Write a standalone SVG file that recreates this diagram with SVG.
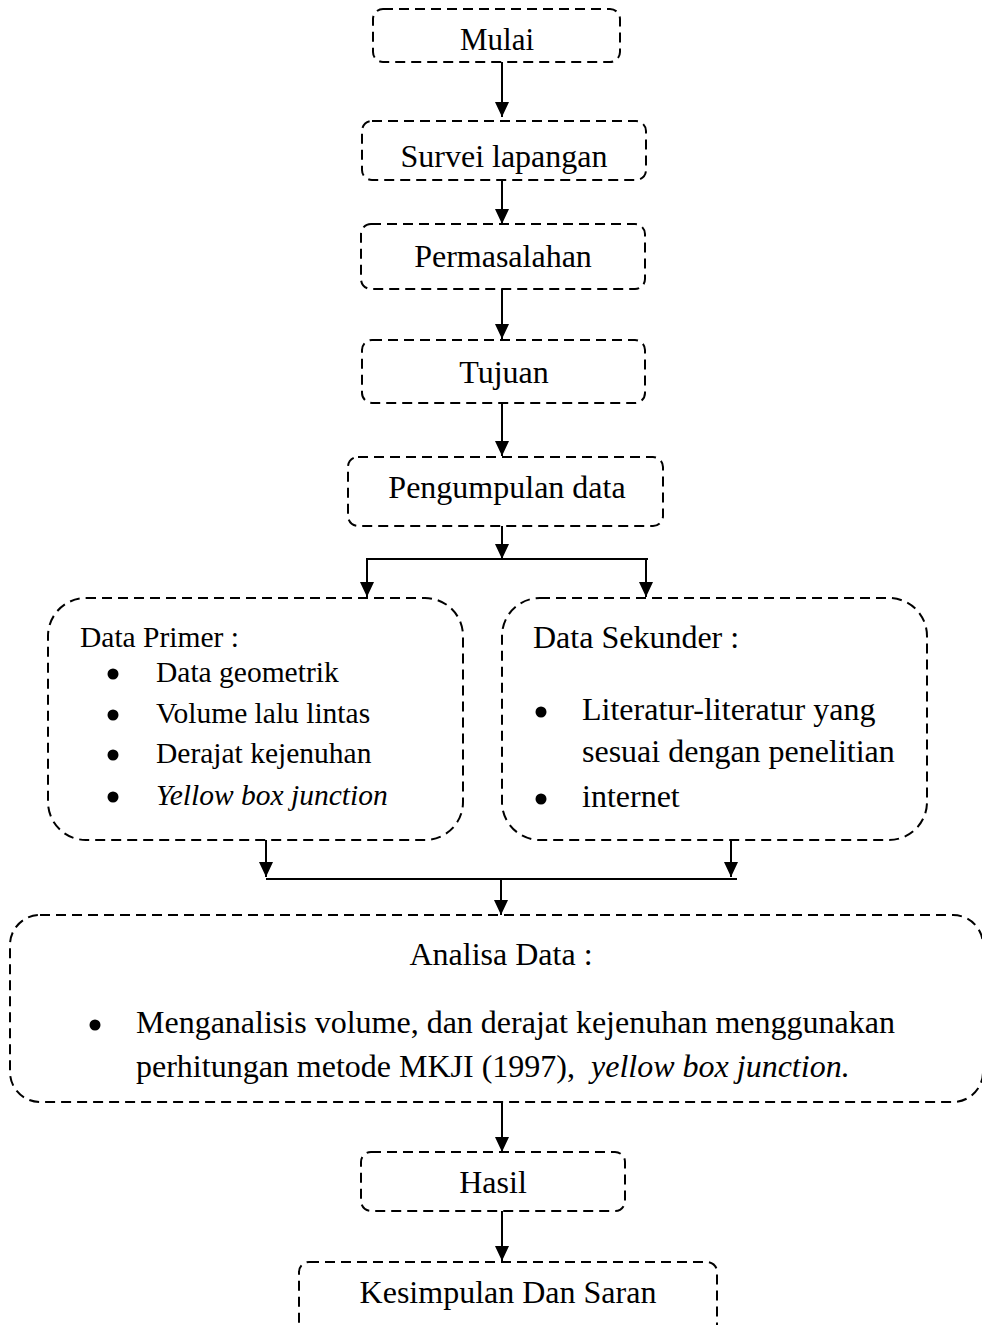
<svg xmlns="http://www.w3.org/2000/svg" width="982" height="1325" viewBox="0 0 982 1325">
<style>
.box{fill:none;stroke:#000;stroke-width:2;stroke-dasharray:10,6}
.t{font-family:"Liberation Serif","Times New Roman",serif;font-size:32px;fill:#000}
.s{font-size:29.5px}
.c{text-anchor:middle}
.i{font-style:italic}
.ln{fill:none;stroke:#000;stroke-width:2}
.ar{fill:none;stroke:#000;stroke-width:2;marker-end:url(#ah)}
</style>
<defs>
<marker id="ah" markerUnits="userSpaceOnUse" markerWidth="16" markerHeight="15" refX="15" refY="7" orient="auto">
<path d="M0,0 L15,7 L0,14 z" fill="#000"/>
</marker>
</defs>
<rect width="982" height="1325" fill="#fff"/>
<g id="mulai"><rect class="box" x="373" y="9" width="247" height="53" rx="10"/><text class="t c" x="497" y="50" style="font-size:31px">Mulai</text></g>
<g id="survei"><rect class="box" x="362" y="121" width="284" height="59" rx="10"/><text class="t c" x="504" y="167">Survei lapangan</text></g>
<g id="permasalahan"><rect class="box" x="361" y="224" width="284" height="65" rx="10"/><text class="t c" x="503" y="267">Permasalahan</text></g>
<g id="tujuan"><rect class="box" x="362" y="340" width="283" height="63" rx="10"/><text class="t c" x="504" y="383">Tujuan</text></g>
<g id="pengumpulan"><rect class="box" x="348" y="457" width="315" height="69" rx="10"/><text class="t c" x="507" y="498">Pengumpulan data</text></g>
<g id="primer"><rect class="box" x="48" y="598" width="415" height="242" rx="38"/>
<text class="t s" x="80" y="647">Data Primer :</text>
<circle cx="113" cy="674" r="5.5"/><text class="t s" x="156" y="682">Data geometrik</text>
<circle cx="113" cy="715" r="5.5"/><text class="t s" x="156" y="723">Volume lalu lintas</text>
<circle cx="113" cy="755" r="5.5"/><text class="t s" x="156" y="763">Derajat kejenuhan</text>
<circle cx="113" cy="797" r="5.5"/><text class="t s i" x="156" y="805">Yellow box junction</text>
</g>
<g id="sekunder"><rect class="box" x="502" y="598" width="425" height="242" rx="38"/>
<text class="t" x="533" y="648">Data Sekunder :</text>
<circle cx="541" cy="712" r="5.5"/><text class="t" x="582" y="720">Literatur-literatur yang</text>
<text class="t" x="582" y="762">sesuai dengan penelitian</text>
<circle cx="541" cy="799" r="5.5"/><text class="t" x="582" y="807">internet</text>
</g>
<g id="analisa"><rect class="box" x="10" y="915" width="973" height="187" rx="30"/>
<text class="t c" x="501" y="965">Analisa Data :</text>
<circle cx="95" cy="1025" r="5.5"/>
<text class="t" x="136" y="1033">Menganalisis volume, dan derajat kejenuhan menggunakan</text>
<text class="t" x="136" y="1077">perhitungan metode MKJI (1997),&#160; <tspan class="i">yellow box junction.</tspan></text>
</g>
<g id="hasil"><rect class="box" x="361" y="1152" width="264" height="59" rx="10"/><text class="t c" x="493" y="1193">Hasil</text></g>
<g id="kesimpulan"><rect class="box" x="299" y="1262" width="418" height="80" rx="10"/><text class="t c" x="508" y="1303">Kesimpulan Dan Saran</text></g>
<g id="connectors">
<line class="ar" x1="502" y1="62" x2="502" y2="117"/>
<line class="ar" x1="502" y1="180" x2="502" y2="224"/>
<line class="ar" x1="502" y1="289" x2="502" y2="339"/>
<line class="ar" x1="502" y1="403" x2="502" y2="456"/>
<line class="ar" x1="502" y1="526" x2="502" y2="559"/>
<line class="ln" x1="366" y1="559" x2="648" y2="559"/>
<line class="ar" x1="367" y1="559" x2="367" y2="597"/>
<line class="ar" x1="646" y1="559" x2="646" y2="597"/>
<line class="ar" x1="266" y1="840" x2="266" y2="877"/>
<line class="ar" x1="731" y1="840" x2="731" y2="877"/>
<line class="ln" x1="266" y1="879" x2="737" y2="879"/>
<line class="ar" x1="501" y1="879" x2="501" y2="915"/>
<line class="ar" x1="502" y1="1102" x2="502" y2="1152"/>
<line class="ar" x1="502" y1="1211" x2="502" y2="1261"/>
</g>
</svg>
